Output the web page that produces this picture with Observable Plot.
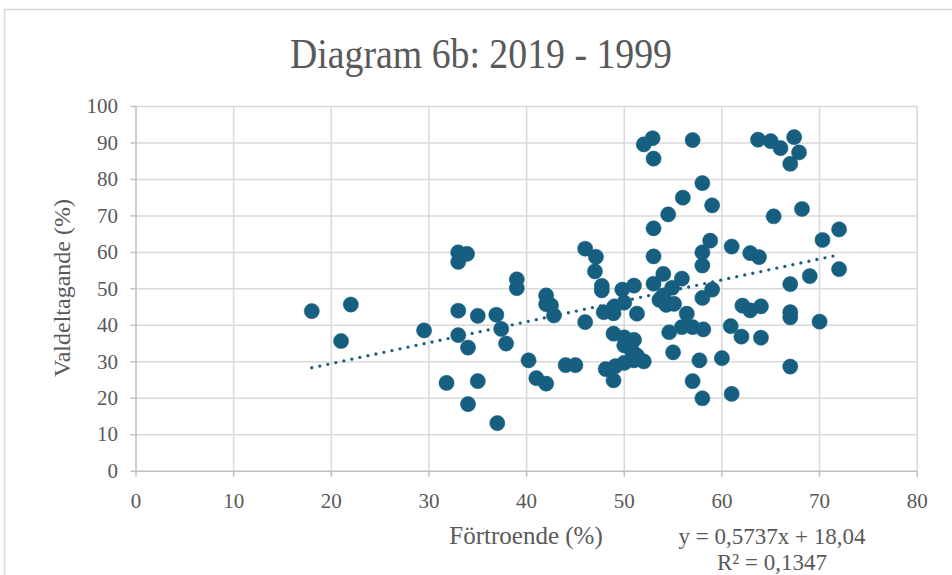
<!DOCTYPE html>
<html>
<head>
<meta charset="utf-8">
<script src="https://cdn.jsdelivr.net/npm/d3@7"></script>
<script src="https://cdn.jsdelivr.net/npm/@observablehq/plot@0.6"></script>
<style>
  html, body { margin: 0; padding: 0; background: #fff; }
  #chart svg { display: block; }
</style>
</head>
<body>
<div id="chart"></div>
<script>
// Chart texts
const title = "Diagram 6b: 2019 - 1999";
const xTitle = "Förtroende (%)";
const yTitle = "Valdeltagande (%)";
const equationText = "y = 0,5737x + 18,04";
const r2Text = "R² = 0,1347";

// Tick labels
const xTicks = [0, 10, 20, 30, 40, 50, 60, 70, 80];
const yTicks = [0, 10, 20, 30, 40, 50, 60, 70, 80, 90, 100];

// Scatter data: förtroende (x) and valdeltagande (y)
const fortroende = [
  18.0, 21.0, 22.0, 29.5, 31.8, 33.0, 33.9, 33.0, 33.0, 35.0,
  36.9, 33.0, 34.0, 35.0, 34.0, 37.0, 37.4, 37.9, 39.0, 39.0,
  42.0, 42.0, 42.5, 42.8, 46.0, 40.2, 41.0, 42.0, 44.0, 45.0,
  46.0, 47.1, 47.0, 47.7, 47.7, 47.9, 48.9, 49.0, 50.0, 51.3,
  49.8, 51.0, 48.9, 50.0, 51.0, 50.0, 50.8, 51.3, 52.0, 48.1,
  49.1, 50.0, 51.0, 48.9, 52.0, 52.9, 53.0, 57.0, 63.7, 65.0,
  66.0, 67.4, 67.9, 67.0, 58.0, 56.0, 59.0, 54.5, 53.0, 65.3,
  68.2, 72.0, 70.3, 72.0, 69.0, 67.0, 67.0, 67.0, 70.0, 67.0,
  58.8, 58.0, 58.0, 61.0, 62.9, 63.8, 53.0, 54.0, 53.0, 55.9,
  54.9, 59.0, 58.0, 53.6, 54.3, 55.1, 54.0, 56.4, 55.9, 57.0,
  58.1, 54.6, 60.9, 62.0, 62.1, 62.9, 64.0, 64.0, 55.0, 57.7,
  60.0, 57.0, 58.0, 61.0
];
const valdeltagande = [
  43.9, 35.7, 45.7, 38.6, 24.2, 60.0, 59.6, 57.4, 44.0, 42.6,
  42.9, 37.3, 33.9, 24.7, 18.4, 13.2, 39.0, 35.0, 52.6, 50.2,
  48.2, 45.8, 45.5, 42.7, 40.9, 30.4, 25.5, 24.0, 29.1, 29.1,
  61.0, 58.8, 54.8, 50.8, 49.6, 43.6, 43.3, 45.2, 46.2, 43.2,
  49.8, 50.9, 37.7, 36.7, 36.0, 34.5, 33.0, 31.7, 30.1, 28.0,
  28.8, 29.7, 30.4, 24.9, 89.6, 91.3, 85.7, 90.8, 90.9, 90.5,
  88.6, 91.6, 87.4, 84.3, 79.0, 75.0, 72.9, 70.4, 66.6, 69.9,
  71.9, 66.3, 63.4, 55.4, 53.5, 51.3, 43.6, 42.2, 41.0, 28.7,
  63.2, 60.0, 56.4, 61.6, 59.8, 58.7, 58.9, 54.1, 51.4, 52.8,
  50.3, 49.8, 47.5, 47.0, 45.6, 45.9, 48.2, 43.2, 39.5, 39.5,
  38.9, 38.1, 39.8, 36.9, 45.4, 44.1, 45.2, 36.6, 32.6, 30.4,
  31.0, 24.7, 20.0, 21.2
];

// Linear trend line (coefficients as printed on the chart), drawn over the data's x range
const trendSlope = 0.5737;
const trendIntercept = 18.04;
const trendX = [18, 72];

const points = fortroende.map((x, i) => ({x, y: valdeltagande[i]}));
const trend = trendX.map(x => ({x, y: trendSlope * x + trendIntercept}));

const fontFamily = "'Liberation Serif', 'Times New Roman', serif";
const textColor = "#595959";
const gridColor = "#d9d9d9";
const axisColor = "#bfbfbf";
const dotColor = "#175f80";

const W = 952, H = 575;
const svg = Plot.plot({
  width: W,
  height: H,
  marginLeft: 135.5,
  marginRight: 35.3,
  marginTop: 106,
  marginBottom: 104.3,
  style: {fontFamily, fontSize: "21px", color: textColor, background: "#fff"},
  x: {domain: [0, 80], label: null},
  y: {domain: [0, 100], label: null},
  marks: [
    Plot.ruleX(xTicks.filter(d => d > 0), {stroke: gridColor, strokeWidth: 1.5}),
    Plot.ruleY(yTicks.filter(d => d > 0), {stroke: gridColor, strokeWidth: 1.5}),
    Plot.ruleX([0], {stroke: axisColor, strokeWidth: 1.5}),
    Plot.ruleY([0], {stroke: axisColor, strokeWidth: 1.5}),
    Plot.axisX({ticks: xTicks, tickSize: 6, tickPadding: 16, stroke: axisColor, fill: textColor, strokeWidth: 1.5, label: null, tickFormat: d => String(d)}),
    Plot.axisY({ticks: yTicks, tickSize: 5, tickPadding: 13, stroke: axisColor, fill: textColor, strokeWidth: 1.5, label: null, tickFormat: d => String(d)}),
    Plot.line(trend, {x: "x", y: "y", stroke: dotColor, strokeWidth: 3.3, strokeDasharray: "0 8.2", strokeLinecap: "round"}),
    Plot.dot(points, {x: "x", y: "y", r: 7.6, fill: dotColor, stroke: dotColor, strokeWidth: 0.5})
  ]
});

const s = d3.select(svg);
// outer chart border
s.insert("rect", ":first-child")
  .attr("x", 4.5).attr("y", 9.5).attr("width", 960).attr("height", 600)
  .attr("fill", "none").attr("stroke", gridColor).attr("stroke-width", 1.5);

const addText = (txt, x, y, size, opts = {}) => {
  const t = s.append("text")
    .attr("text-anchor", "middle")
    .attr("fill", textColor)
    .style("font-family", fontFamily)
    .style("font-size", size + "px")
    .text(txt);
  let tr = `translate(${x},${y})`;
  if (opts.rotate) tr += " rotate(-90)";
  if (opts.scale) tr += ` scale(${opts.scale[0]},${opts.scale[1]})`;
  t.attr("transform", tr);
  return t;
};
addText(title, 481, 68, 42, {scale: [0.9, 1]});
addText(xTitle, 526, 544, 25);
addText(yTitle, 70, 288, 24, {rotate: true});
addText(equationText, 772, 544, 23);
addText(r2Text, 772, 570, 23);

document.getElementById("chart").appendChild(svg);
</script>
</body>
</html>
